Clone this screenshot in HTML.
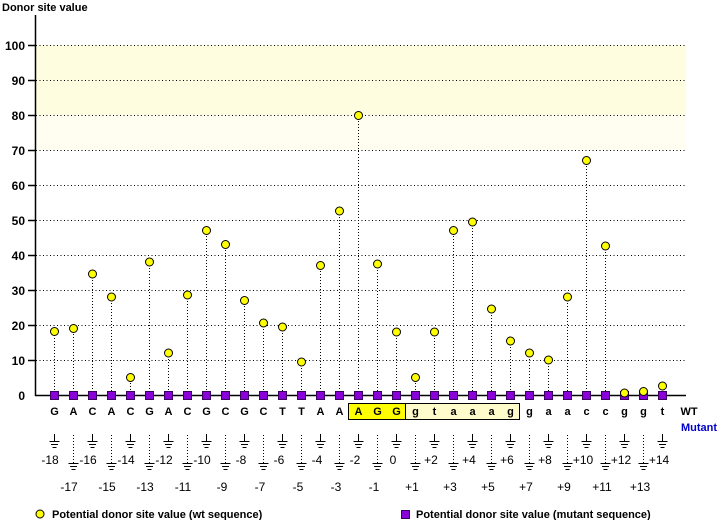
<!DOCTYPE html>
<html><head><meta charset="utf-8"><style>
html,body{margin:0;padding:0;background:#fff;width:720px;height:520px;overflow:hidden}
svg{display:block;font-family:"Liberation Sans",sans-serif}
.yl{font-size:12px;font-weight:bold;text-anchor:end}
.sq{font-size:11px;font-weight:bold;text-anchor:middle}
.pl{font-size:12px;text-anchor:middle}
.gr{stroke:#000;stroke-width:1;stroke-dasharray:1 2.5}
.st{stroke:#000;stroke-width:1;stroke-dasharray:1 2}
.c{fill:#ffff00;stroke:#000;stroke-width:1}
.s{fill:#8a00d8;stroke:#3a0060;stroke-width:1}
</style></head><body>
<svg width="720" height="520" viewBox="0 0 720 520">
<text x="2" y="11" style="font-size:11px;font-weight:bold">Donor site value</text>
<rect x="36" y="45" width="650" height="70" fill="#fffde0"/>
<rect x="36" y="115" width="650" height="35" fill="#fffef0"/>
<g class="gr">
<line x1="36" y1="45.5" x2="686" y2="45.5"/><line x1="36" y1="80.5" x2="686" y2="80.5"/>
<line x1="36" y1="115.5" x2="686" y2="115.5"/><line x1="36" y1="150.5" x2="686" y2="150.5"/>
<line x1="36" y1="185.5" x2="686" y2="185.5"/><line x1="36" y1="220.5" x2="686" y2="220.5"/>
<line x1="36" y1="255.5" x2="686" y2="255.5"/><line x1="36" y1="290.5" x2="686" y2="290.5"/>
<line x1="36" y1="325.5" x2="686" y2="325.5"/><line x1="36" y1="360.5" x2="686" y2="360.5"/>
</g>
<g stroke="#000" stroke-width="1.5">
<line x1="35.5" y1="15" x2="35.5" y2="396"/>
<line x1="35" y1="395.5" x2="686" y2="395.5"/>
<line x1="28" y1="45.5" x2="35" y2="45.5"/><line x1="28" y1="80.5" x2="35" y2="80.5"/>
<line x1="28" y1="115.5" x2="35" y2="115.5"/><line x1="28" y1="150.5" x2="35" y2="150.5"/>
<line x1="28" y1="185.5" x2="35" y2="185.5"/><line x1="28" y1="220.5" x2="35" y2="220.5"/>
<line x1="28" y1="255.5" x2="35" y2="255.5"/><line x1="28" y1="290.5" x2="35" y2="290.5"/>
<line x1="28" y1="325.5" x2="35" y2="325.5"/><line x1="28" y1="360.5" x2="35" y2="360.5"/>
</g>
<g class="yl">
<text x="25" y="50">100</text><text x="25" y="85">90</text><text x="25" y="120">80</text>
<text x="25" y="155">70</text><text x="25" y="190">60</text><text x="25" y="225">50</text>
<text x="25" y="260">40</text><text x="25" y="295">30</text><text x="25" y="330">20</text>
<text x="25" y="365">10</text><text x="25" y="400">0</text>
</g>
<g class="st">
<line x1="54.5" y1="332" x2="54.5" y2="395"/><line x1="73.5" y1="328" x2="73.5" y2="395"/>
<line x1="92.5" y1="274" x2="92.5" y2="395"/><line x1="111.5" y1="297" x2="111.5" y2="395"/>
<line x1="130.5" y1="377" x2="130.5" y2="395"/><line x1="149.5" y1="262" x2="149.5" y2="395"/>
<line x1="168.5" y1="353" x2="168.5" y2="395"/><line x1="187.5" y1="295" x2="187.5" y2="395"/>
<line x1="206.5" y1="230" x2="206.5" y2="395"/><line x1="225.5" y1="244" x2="225.5" y2="395"/>
<line x1="244.5" y1="300" x2="244.5" y2="395"/><line x1="263.5" y1="323" x2="263.5" y2="395"/>
<line x1="282.5" y1="327" x2="282.5" y2="395"/><line x1="301.5" y1="362" x2="301.5" y2="395"/>
<line x1="320.5" y1="265" x2="320.5" y2="395"/><line x1="339.5" y1="211" x2="339.5" y2="395"/>
<line x1="358.5" y1="115" x2="358.5" y2="395"/><line x1="377.5" y1="264" x2="377.5" y2="395"/>
<line x1="396.5" y1="332" x2="396.5" y2="395"/><line x1="415.5" y1="377" x2="415.5" y2="395"/>
<line x1="434.5" y1="332" x2="434.5" y2="395"/><line x1="453.5" y1="230" x2="453.5" y2="395"/>
<line x1="472.5" y1="222" x2="472.5" y2="395"/><line x1="491.5" y1="309" x2="491.5" y2="395"/>
<line x1="510.5" y1="341" x2="510.5" y2="395"/><line x1="529.5" y1="353" x2="529.5" y2="395"/>
<line x1="548.5" y1="360" x2="548.5" y2="395"/><line x1="567.5" y1="297" x2="567.5" y2="395"/>
<line x1="586.5" y1="160" x2="586.5" y2="395"/><line x1="605.5" y1="246" x2="605.5" y2="395"/>
<line x1="662.5" y1="386" x2="662.5" y2="395"/>
</g>
<g class="s">
<rect x="50.5" y="391.5" width="8" height="8"/><rect x="69.5" y="391.5" width="8" height="8"/>
<rect x="88.5" y="391.5" width="8" height="8"/><rect x="107.5" y="391.5" width="8" height="8"/>
<rect x="126.5" y="391.5" width="8" height="8"/><rect x="145.5" y="391.5" width="8" height="8"/>
<rect x="164.5" y="391.5" width="8" height="8"/><rect x="183.5" y="391.5" width="8" height="8"/>
<rect x="202.5" y="391.5" width="8" height="8"/><rect x="221.5" y="391.5" width="8" height="8"/>
<rect x="240.5" y="391.5" width="8" height="8"/><rect x="259.5" y="391.5" width="8" height="8"/>
<rect x="278.5" y="391.5" width="8" height="8"/><rect x="297.5" y="391.5" width="8" height="8"/>
<rect x="316.5" y="391.5" width="8" height="8"/><rect x="335.5" y="391.5" width="8" height="8"/>
<rect x="354.5" y="391.5" width="8" height="8"/><rect x="373.5" y="391.5" width="8" height="8"/>
<rect x="392.5" y="391.5" width="8" height="8"/><rect x="411.5" y="391.5" width="8" height="8"/>
<rect x="430.5" y="391.5" width="8" height="8"/><rect x="449.5" y="391.5" width="8" height="8"/>
<rect x="468.5" y="391.5" width="8" height="8"/><rect x="487.5" y="391.5" width="8" height="8"/>
<rect x="506.5" y="391.5" width="8" height="8"/><rect x="525.5" y="391.5" width="8" height="8"/>
<rect x="544.5" y="391.5" width="8" height="8"/><rect x="563.5" y="391.5" width="8" height="8"/>
<rect x="582.5" y="391.5" width="8" height="8"/><rect x="601.5" y="391.5" width="8" height="8"/>
<rect x="620.5" y="391.5" width="8" height="8"/><rect x="639.5" y="391.5" width="8" height="8"/>
<rect x="658.5" y="391.5" width="8" height="8"/>
</g>
<g class="c">
<circle cx="54.5" cy="331.5" r="4"/><circle cx="73.5" cy="328.5" r="4"/>
<circle cx="92.5" cy="274" r="4"/><circle cx="111.5" cy="297" r="4"/>
<circle cx="130.5" cy="377.5" r="4"/><circle cx="149.5" cy="262" r="4"/>
<circle cx="168.5" cy="353" r="4"/><circle cx="187.5" cy="295" r="4"/>
<circle cx="206.5" cy="230.5" r="4"/><circle cx="225.5" cy="244.5" r="4"/>
<circle cx="244.5" cy="300.5" r="4"/><circle cx="263.5" cy="323" r="4"/>
<circle cx="282.5" cy="327" r="4"/><circle cx="301.5" cy="362" r="4"/>
<circle cx="320.5" cy="265.5" r="4"/><circle cx="339.5" cy="211" r="4"/>
<circle cx="358.5" cy="115.5" r="4"/><circle cx="377.5" cy="264" r="4"/>
<circle cx="396.5" cy="332" r="4"/><circle cx="415.5" cy="377.5" r="4"/>
<circle cx="434.5" cy="332" r="4"/><circle cx="453.5" cy="230.5" r="4"/>
<circle cx="472.5" cy="222" r="4"/><circle cx="491.5" cy="309" r="4"/>
<circle cx="510.5" cy="341" r="4"/><circle cx="529.5" cy="353" r="4"/>
<circle cx="548.5" cy="360" r="4"/><circle cx="567.5" cy="297" r="4"/>
<circle cx="586.5" cy="160.5" r="4"/><circle cx="605.5" cy="246" r="4"/>
<circle cx="624.5" cy="393" r="4"/><circle cx="643.5" cy="391.5" r="4"/>
<circle cx="662.5" cy="386" r="4"/>
</g>
<rect x="348.5" y="403.5" width="171" height="16" fill="#fffccc" stroke="#000"/>
<rect x="349" y="404" width="56" height="15" fill="#ffff00"/>
<line x1="405.5" y1="404" x2="405.5" y2="419" stroke="#000"/>
<g class="sq">
<text x="54.5" y="415">G</text><text x="73.5" y="415">A</text><text x="92.5" y="415">C</text>
<text x="111.5" y="415">A</text><text x="130.5" y="415">C</text><text x="149.5" y="415">G</text>
<text x="168.5" y="415">A</text><text x="187.5" y="415">C</text><text x="206.5" y="415">G</text>
<text x="225.5" y="415">C</text><text x="244.5" y="415">G</text><text x="263.5" y="415">C</text>
<text x="282.5" y="415">T</text><text x="301.5" y="415">T</text><text x="320.5" y="415">A</text>
<text x="339.5" y="415">A</text><text x="358.5" y="415">A</text><text x="377.5" y="415">G</text>
<text x="396.5" y="415">G</text><text x="415.5" y="415">g</text><text x="434.5" y="415">t</text>
<text x="453.5" y="415">a</text><text x="472.5" y="415">a</text><text x="491.5" y="415">a</text>
<text x="510.5" y="415">g</text><text x="529.5" y="415">g</text><text x="548.5" y="415">a</text>
<text x="567.5" y="415">a</text><text x="586.5" y="415">c</text><text x="605.5" y="415">c</text>
<text x="624.5" y="415">g</text><text x="643.5" y="415">g</text><text x="662.5" y="415">t</text>
<text x="689" y="415">WT</text>
</g>
<text x="681" y="431" style="font-size:11px;font-weight:bold;fill:#0000cc">Mutant</text>
<defs>
<g id="gt"><line x1="0.5" y1="434" x2="0.5" y2="441" stroke="#000"/><path d="M-4.5 441.5h10M-3 444.5h7M-1.5 447.5h4" stroke="#000"/></g>
<g id="gb"><line x1="0.5" y1="435" x2="0.5" y2="463" class="st"/><path d="M-4.5 463.5h10M-3 466.5h7M-1.5 469.5h4" stroke="#000"/></g>
</defs>
<use href="#gt" x="54"/><use href="#gb" x="73"/><use href="#gt" x="92"/><use href="#gb" x="111"/>
<use href="#gt" x="130"/><use href="#gb" x="149"/><use href="#gt" x="168"/><use href="#gb" x="187"/>
<use href="#gt" x="206"/><use href="#gb" x="225"/><use href="#gt" x="244"/><use href="#gb" x="263"/>
<use href="#gt" x="282"/><use href="#gb" x="301"/><use href="#gt" x="320"/><use href="#gb" x="339"/>
<use href="#gt" x="358"/><use href="#gb" x="377"/><use href="#gt" x="396"/><use href="#gb" x="415"/>
<use href="#gt" x="434"/><use href="#gb" x="453"/><use href="#gt" x="472"/><use href="#gb" x="491"/>
<use href="#gt" x="510"/><use href="#gb" x="529"/><use href="#gt" x="548"/><use href="#gb" x="567"/>
<use href="#gt" x="586"/><use href="#gb" x="605"/><use href="#gt" x="624"/><use href="#gb" x="643"/>
<use href="#gt" x="662"/>
<g class="pl">
<text x="50" y="464">-18</text><text x="69" y="491">-17</text><text x="88" y="464">-16</text>
<text x="107" y="491">-15</text><text x="126" y="464">-14</text><text x="145" y="491">-13</text>
<text x="164" y="464">-12</text><text x="183" y="491">-11</text><text x="202" y="464">-10</text>
<text x="222" y="491">-9</text><text x="241" y="464">-8</text><text x="260" y="491">-7</text>
<text x="279" y="464">-6</text><text x="298" y="491">-5</text><text x="317" y="464">-4</text>
<text x="336" y="491">-3</text><text x="355" y="464">-2</text><text x="374" y="491">-1</text>
<text x="393" y="464">0</text><text x="412" y="491">+1</text><text x="431" y="464">+2</text>
<text x="450" y="491">+3</text><text x="469" y="464">+4</text><text x="488" y="491">+5</text>
<text x="507" y="464">+6</text><text x="526" y="491">+7</text><text x="545" y="464">+8</text>
<text x="564" y="491">+9</text><text x="583" y="464">+10</text><text x="602" y="491">+11</text>
<text x="621" y="464">+12</text><text x="640" y="491">+13</text><text x="659" y="464">+14</text>
</g>
<circle cx="40" cy="514" r="4" class="c"/>
<text x="52" y="518" style="font-size:11px;font-weight:bold">Potential donor site value (wt sequence)</text>
<rect x="401.5" y="510.5" width="8" height="8" class="s"/>
<text x="416" y="518" style="font-size:11px;font-weight:bold">Potential donor site value (mutant sequence)</text>
</svg>
</body></html>
